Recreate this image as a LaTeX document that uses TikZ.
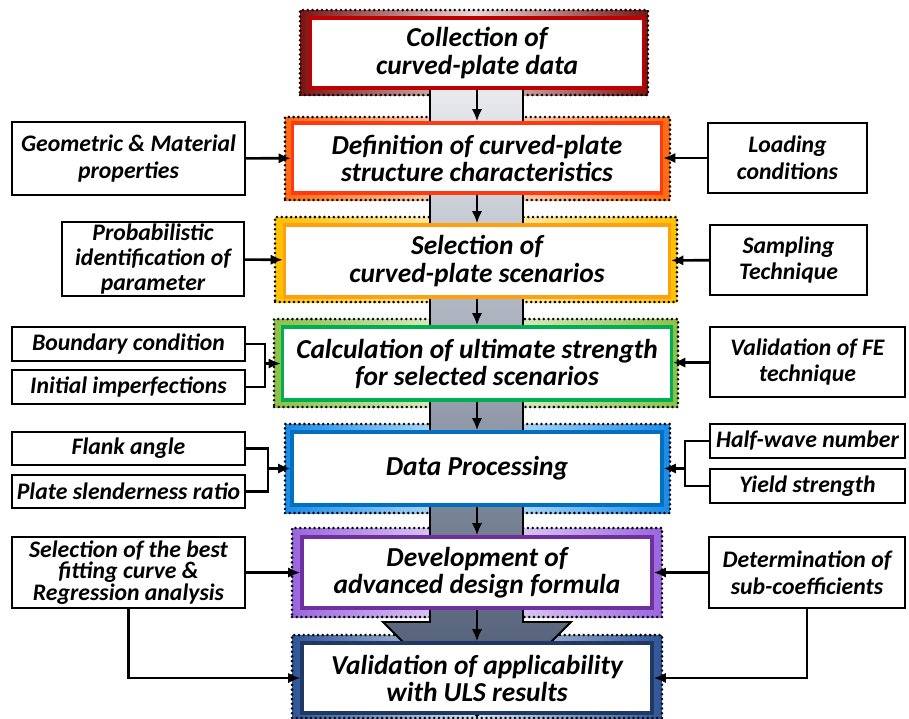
\documentclass[tikz,border=0pt]{standalone}
\usepackage{fontspec}
\setmainfont{Carlito}
\usetikzlibrary{arrows.meta,positioning,calc}

\definecolor{redline}{HTML}{C00000}
\definecolor{redframe}{HTML}{7B1414}
\definecolor{orangeline}{HTML}{FF3A12}
\definecolor{orangeframe}{HTML}{FF6A10}
\definecolor{goldline}{HTML}{FFA010}
\definecolor{goldframe}{HTML}{FFC000}
\definecolor{greenline}{HTML}{00B050}
\definecolor{greenframe}{HTML}{8CC048}
\definecolor{blueline}{HTML}{0070C0}
\definecolor{blueframe}{HTML}{1A8AE6}
\definecolor{purpleline}{HTML}{7030A0}
\definecolor{purpleframe}{HTML}{9966DD}
\definecolor{navyline}{HTML}{1F3864}
\definecolor{navyframe}{HTML}{2F5597}
\definecolor{shafttop}{HTML}{F0F1F4}
\definecolor{shaftbot}{HTML}{44526C}

\begin{document}
\begin{tikzpicture}[
  x=0.02cm, y=-0.02cm,
  boxsize/.style 2 args={minimum width=#1*0.02cm, minimum height=#2*0.02cm},
  mainbox/.style={draw=#1, line width=1.9pt, fill=white, inner sep=0pt,
                  align=center, font=\fontsize{15.6}{15.4}\selectfont\bfseries\itshape},
  frame/.style={left color=#1, right color=#1, middle color=#1!18,
                draw=black, line width=1.6pt, dash pattern=on 0pt off 2.7pt,
                line cap=round, inner sep=0pt},
  side/.style={draw, line width=1.1pt, fill=white, inner sep=0pt,
               align=center, font=\fontsize{13.5}{15.3}\selectfont\bfseries\itshape},
  bigarrow/.style={top color=shafttop, bottom color=shaftbot, draw=black, line width=1.1pt},
  edge/.style={-{Latex[length=7pt,width=6pt]}, line width=1.5pt},
  conn/.style={line width=1.5pt},
]
\useasboundingbox (0,0) rectangle (909,718);

% coloured frames behind the steps
\node[frame=redframe,    boxsize={348}{85}] (frame1) at (474,52.5) {};
\node[frame=orangeframe, boxsize={385}{83}] (frame2) at (477.5,158.5) {};
\node[frame=goldframe,   boxsize={402}{85}] (frame3) at (476,259.5) {};
\node[frame=greenframe,  boxsize={404}{88}] (frame4) at (476,363) {};
\node[frame=blueframe,   boxsize={385}{89}] (frame5) at (477.5,468.5) {};
\node[frame=purpleframe, boxsize={370}{89}] (frame6) at (477,572.5) {};
\node[frame=navyframe,   boxsize={370}{83}] (frame7) at (477,676.5) {};

% big grey arrow
\draw[bigarrow] (430,60) -- (430,622) -- (383,622) -- (477,716)
  -- (571,622) -- (523,622) -- (523,60) -- cycle;

% main steps
\node[mainbox=redline,    boxsize={333}{70}] (box1) at (477,53)
  {Collection of\\curved-plate data};
\node[mainbox=orangeline, boxsize={369}{70}] (box2) at (477,158)
  {Definition of curved-plate\\structure characteristics};
\node[mainbox=goldline,   boxsize={385}{72}] (box3) at (477,261)
  {Selection of\\curved-plate scenarios};
\node[mainbox=greenline,  boxsize={389}{73}] (box4) at (477,363.5)
  {Calculation of ultimate strength\\for selected scenarios};
\node[mainbox=blueline,   boxsize={370}{73}] (box5) at (477,468.5)
  {Data Processing};
\node[mainbox=purpleline, boxsize={350}{71}] (box6) at (477,572.5)
  {Development of\\advanced design formula};
\node[mainbox=navyline,   boxsize={350}{70}] (box7) at (477,678)
  {Validation of applicability\\with ULS results};

% inputs on the left
\node[side, boxsize={233}{73}] (geo) at (128.5,158.5) {Geometric \& Material\\properties};
\node[side, boxsize={182}{74}, font=\fontsize{13.5}{14.2}\selectfont\bfseries\itshape]
  (prob) at (153,259) {Probabilistic\\identification of\\parameter};
\node[side, boxsize={233}{34}] (bound) at (128.5,344) {Boundary condition};
\node[side, boxsize={233}{34}] (init) at (128.5,387) {Initial imperfections};
\node[side, boxsize={233}{33}] (flank) at (128.5,448.5) {Flank angle};
\node[side, boxsize={233}{33}] (slen) at (128.5,491.5) {Plate slenderness ratio};
\node[side, boxsize={233}{71}, font=\fontsize{13.5}{12.3}\selectfont\bfseries\itshape]
  (best) at (128.5,572.5) {Selection of the best\\fitting curve \&\\Regression analysis};

% inputs on the right
\node[side, boxsize={159}{70}] (load) at (787.5,158) {Loading\\conditions};
\node[side, boxsize={157}{70}] (samp) at (788.5,260) {Sampling\\Technique};
\node[side, boxsize={195}{70}] (valfe) at (807.5,362) {Validation of FE\\technique};
\node[side, boxsize={195}{34}] (half) at (807.5,441) {Half-wave number};
\node[side, boxsize={195}{34}] (yield) at (807.5,486) {Yield strength};
\node[side, boxsize={196}{71}] (det) at (807,572.5) {Determination of\\sub-coefficients};

\coordinate (jl4) at (265,363.5);
\coordinate (jl5) at (268,468.5);
\coordinate (jr5) at (685,468.5);

% flow down the column
\draw[edge] (box1) -- (box2);
\draw[edge] (box2) -- (box3);
\draw[edge] (box3) -- (box4);
\draw[edge] (box4) -- (box5);
\draw[edge] (box5) -- (box6);
\draw[edge] (box6) -- (box7);

% side connectors
\draw[edge] (geo) -- (box2);
\draw[edge] (load) -- (box2);
\draw[edge] (prob) -- (box3);
\draw[edge] (samp) -- (box3);
\draw[conn] (bound.east) -| (jl4) |- (init.east);
\draw[edge] (jl4) -- (box4.west);
\draw[edge] (valfe) -- (box4);
\draw[conn] (flank.east) -| (jl5) |- (slen.east);
\draw[edge] (jl5) -- (box5.west);
\draw[conn] (half.west) -| (jr5) |- (yield.west);
\draw[edge] (jr5) -- (box5.east);
\draw[edge] (best) -- (box6);
\draw[edge] (det) -- (box6);
\draw[edge] (best.south) |- (box7.west);
\draw[edge] (det.south) |- (box7.east);

\end{tikzpicture}
\end{document}
